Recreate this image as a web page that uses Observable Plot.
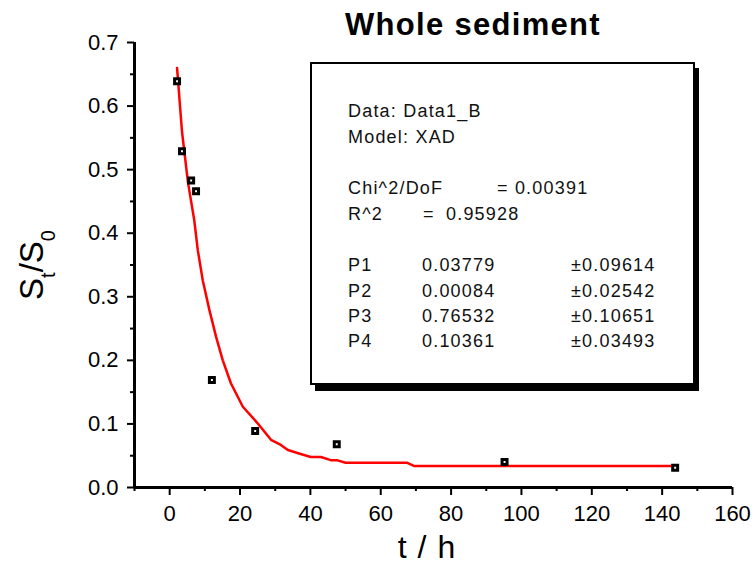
<!DOCTYPE html>
<html>
<head>
<meta charset="utf-8">
<script src="https://cdn.jsdelivr.net/npm/d3@7"></script>
<script src="https://cdn.jsdelivr.net/npm/@observablehq/plot@0.6"></script>
<style>
  html, body { margin: 0; padding: 0; background: white; }
  #wrap { position: relative; width: 756px; height: 566px; font-family: "Liberation Sans", Arial, sans-serif; }
  #overlay { position: absolute; left: 0; top: 0; pointer-events: none; }
</style>
</head>
<body>
<div id="wrap"></div>
<script>
// ---- data ----
const timeH = [2.1, 3.5, 6.1, 7.5, 12, 24.3, 47.5, 95.2, 143.7];
const ratio = [0.639, 0.529, 0.483, 0.466, 0.169, 0.089, 0.068, 0.040, 0.031];

const fitT = [2.1, 3.5, 5.2, 7, 8, 9.4, 11.3, 13.2, 15.1, 17.4, 20.8, 25, 28.8, 31.6, 33.6, 37, 40.1, 43, 45.8, 47.5, 50, 67.4, 69.4, 144];
const fitR = [0.66, 0.56, 0.48, 0.42, 0.373, 0.326, 0.279, 0.237, 0.2, 0.164, 0.127, 0.101, 0.075, 0.067, 0.059, 0.053, 0.048, 0.048, 0.043, 0.043, 0.039, 0.039, 0.034, 0.034];

const xTicks = [0, 20, 40, 60, 80, 100, 120, 140, 160];
const xMinor = [-10, 10, 30, 50, 70, 90, 110, 130, 150];
const yTicks = [0, 0.1, 0.2, 0.3, 0.4, 0.5, 0.6, 0.7];
const yMinor = [0.05, 0.15, 0.25, 0.35, 0.45, 0.55, 0.65];
const xDomain = [-10, 160];
const yDomain = [0, 0.7];

const titleText = "Whole sediment";
const xLabel = "t / h";

const infoHeader = ["Data: Data1_B", "Model: XAD"];
const chiLabel = "Chi^2/DoF", chiValue = "= 0.00391";
const r2Label = "R^2", r2Value = "0.95928";
const paramNames = ["P1", "P2", "P3", "P4"];
const paramValues = ["0.03779", "0.00084", "0.76532", "0.10361"];
const paramErrors = ["\u00b10.09614", "\u00b10.02542", "\u00b10.10651", "\u00b10.03493"];

// ---- tables ----
const points = timeH.map((t, i) => ({t, r: ratio[i]}));
const fit = fitT.map((t, i) => ({t, r: fitR[i]}));

const font = "'Liberation Sans', Arial, sans-serif";

const chart = Plot.plot({
  width: 756,
  height: 566,
  marginLeft: 134,
  marginRight: 24,
  marginTop: 42,
  marginBottom: 79,
  x: {domain: xDomain},
  y: {domain: yDomain},
  style: {fontFamily: font, fontSize: "22px", color: "black", background: "white", overflow: "visible"},
  marks: [
    Plot.axisX(xMinor, {tickSize: 4, tickFormat: () => "", strokeWidth: 2, label: null}),
    Plot.axisX(xTicks, {tickSize: 8, tickPadding: 10, tickFormat: d3.format("d"), strokeWidth: 2, label: null, fontSize: 22}),
    Plot.axisY(yMinor, {tickSize: 4, tickFormat: () => "", strokeWidth: 2, label: null}),
    Plot.axisY(yTicks, {tickSize: 7, tickPadding: 9, tickFormat: d3.format(".1f"), strokeWidth: 2, label: null, fontSize: 22}),
    Plot.ruleY([yDomain[0]], {stroke: "black", strokeWidth: 3}),
    Plot.ruleX([xDomain[0]], {stroke: "black", strokeWidth: 3}),
    Plot.line(fit, {x: "t", y: "r", stroke: "#ff0000", strokeWidth: 2.5}),
    Plot.dot(points, {x: "t", y: "r", symbol: "square", r: 2.8, fill: "white", stroke: "black", strokeWidth: 3})
  ]
});

const wrap = document.getElementById("wrap");
wrap.appendChild(chart);

// ---- overlay: title, axis labels, fit report box ----
const ns = "http://www.w3.org/2000/svg";
const ov = d3.select(wrap).append("svg")
  .attr("id", "overlay")
  .attr("xmlns", ns)
  .attr("width", 756).attr("height", 566)
  .style("font-family", font);

ov.append("text")
  .attr("x", 345).attr("y", 35)
  .attr("font-size", 31).attr("font-weight", "bold")
  .attr("letter-spacing", 1.3)
  .text(titleText);

ov.append("text")
  .attr("x", 427).attr("y", 558)
  .attr("text-anchor", "middle")
  .attr("font-size", 32).attr("letter-spacing", 1)
  .text(xLabel);

const yl = ov.append("text")
  .attr("transform", "translate(43,265) rotate(-90)")
  .attr("text-anchor", "middle")
  .attr("font-size", 33);
yl.append("tspan").text("S");
yl.append("tspan").attr("font-size", 20).attr("dy", 12).text("t");
yl.append("tspan").attr("dy", -12).text("/S");
yl.append("tspan").attr("font-size", 20).attr("dy", 12).text("0");

// box with shadow
ov.append("rect").attr("x", 315).attr("y", 68).attr("width", 384).attr("height", 323).attr("fill", "black");
ov.append("rect").attr("x", 311).attr("y", 63).attr("width", 383).attr("height", 321)
  .attr("fill", "white").attr("stroke", "black").attr("stroke-width", 2);

const bt = ov.append("g").attr("font-size", 18).attr("letter-spacing", 1.2).attr("fill", "#111");
const headerY = [117, 143];
infoHeader.forEach((s, i) => bt.append("text").attr("x", 348).attr("y", headerY[i]).text(s));
bt.append("text").attr("x", 348).attr("y", 194).text(chiLabel);
bt.append("text").attr("x", 497).attr("y", 194).text(chiValue);
bt.append("text").attr("x", 348).attr("y", 220).text(r2Label);
bt.append("text").attr("x", 423).attr("y", 220).text("=");
bt.append("text").attr("x", 446).attr("y", 220).text(r2Value);
const pY = [271, 297, 322, 347];
paramNames.forEach((p, i) => {
  bt.append("text").attr("x", 348).attr("y", pY[i]).text(p);
  bt.append("text").attr("x", 422).attr("y", pY[i]).text(paramValues[i]);
  bt.append("text").attr("x", 571).attr("y", pY[i]).text(paramErrors[i]);
});
</script>
</body>
</html>
